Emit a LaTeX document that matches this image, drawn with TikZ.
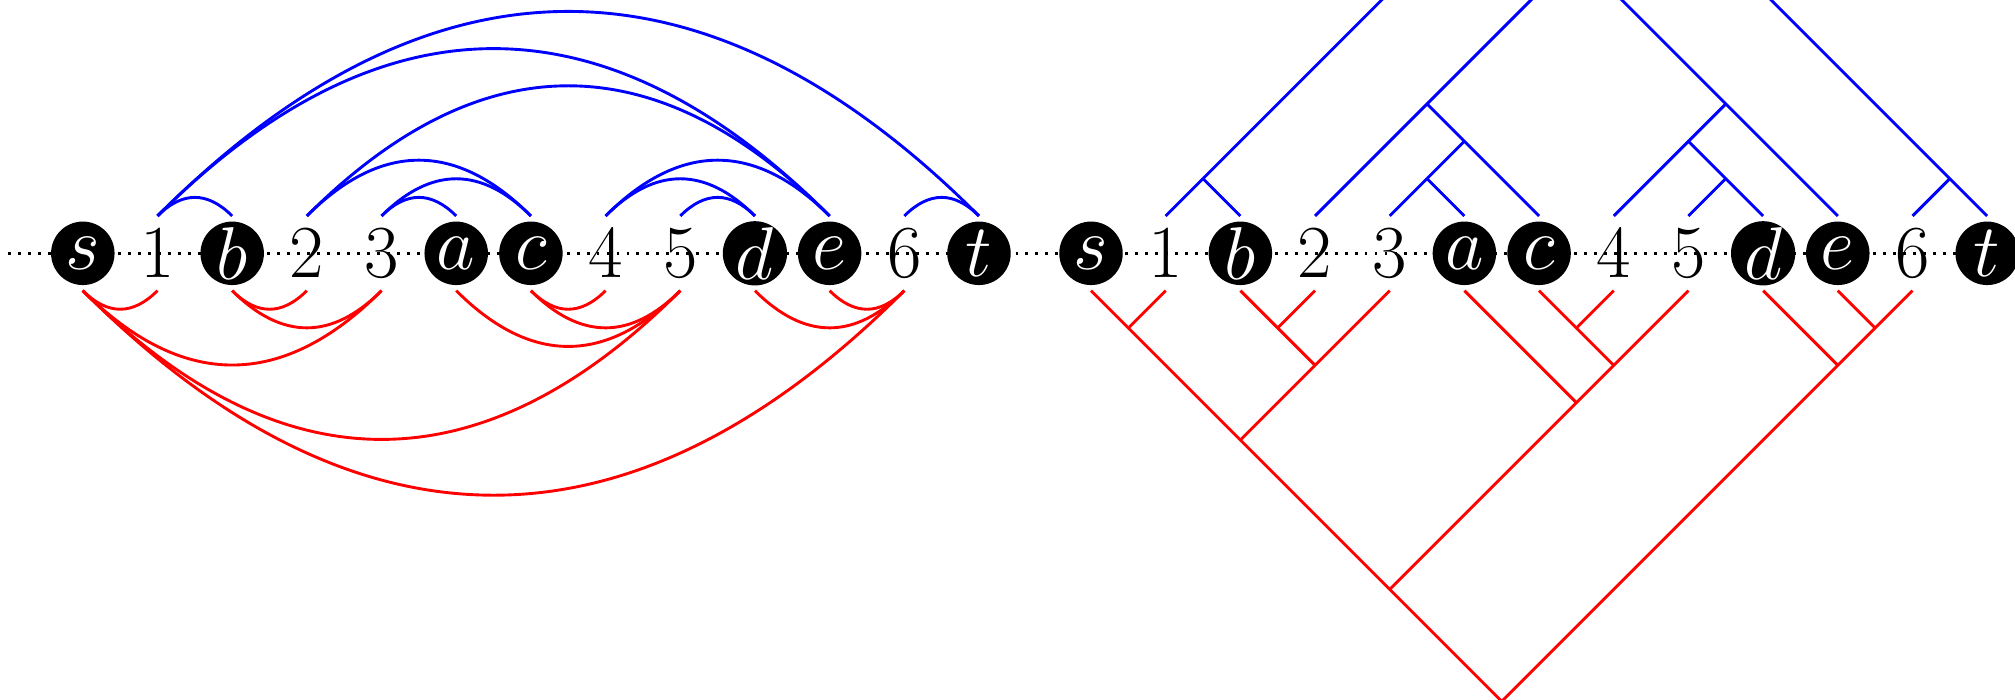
\documentclass[tikz,border=0pt]{standalone}
\usepackage{fix-cm}
\usepackage{xcolor}
\usepackage{tikz}
\definecolor{ArcBlue}{HTML}{0000FF}
\definecolor{ArcRed}{HTML}{FF0000}
\tikzset{
  vertex/.style={circle,fill=black,text=white,inner sep=0pt,minimum size=0.85cm},
  gap/.style={inner sep=0pt},
  upedge/.style={ArcBlue,line width=1.1pt},
  downedge/.style={ArcRed,line width=1.1pt},
  axisdots/.style={line width=1.1pt,dash pattern=on 1.1pt off 2.7pt}
}
\begin{document}
\begin{tikzpicture}[x=1cm,y=1cm,font=\fontsize{28.5}{34}\selectfont]
\clip (-1.109,-5.981) rectangle (25.873,3.392);
\draw[axisdots] (-1,0) -- (26,0);
% vertices and gaps, left row and right row
\foreach \v/\i in {s/0,b/2,a/5,c/6,d/9,e/10,t/12} {
  \node[vertex] (L\v) at (\i,0) {$\v$};
  \node[vertex] (R\v) at (\i+13.5,0) {$\v$};
}
\foreach \v/\i in {1/1,2/3,3/4,4/7,5/8,6/11} {
  \node[gap] (L\v) at (\i,0) {$\v$};
  \node[gap] (R\v) at (\i+13.5,0) {$\v$};
}
% left: arcs (parabolas, 45 degrees at the ends)
\foreach \p/\q in {1/b,1/e,1/t,2/c,2/e,3/a,3/c,4/d,4/e,5/d,6/t}
  \draw[upedge] ([yshift=0.5cm]L\p.center) to[out=45,in=135,looseness=1.204] ([yshift=0.5cm]L\q.center);
\foreach \p/\q in {s/1,s/3,s/5,s/6,b/2,b/3,a/5,c/4,c/5,d/6,e/6}
  \draw[downedge] ([yshift=-0.5cm]L\p.center) to[out=-45,in=-135,looseness=1.204] ([yshift=-0.5cm]L\q.center);
% right: tree junctions
\coordinate (up-1b) at (15,1);
\coordinate (up-3a) at (18,1);
\coordinate (up-3c) at (18.5,1.5);
\coordinate (up-2c) at (18,2);
\coordinate (up-5d) at (22,1);
\coordinate (up-4d) at (21.5,1.5);
\coordinate (up-4e) at (22,2);
\coordinate (up-6t) at (25,1);
\coordinate (up-2e) at (20,4);
\coordinate (up-1e) at (19,5);
\coordinate (up-1t) at (20,6);
\coordinate (dn-s1) at (14,-1);
\coordinate (dn-b2) at (16,-1);
\coordinate (dn-b3) at (16.5,-1.5);
\coordinate (dn-s3) at (15.5,-2.5);
\coordinate (dn-c4) at (20,-1);
\coordinate (dn-c5) at (20.5,-1.5);
\coordinate (dn-a5) at (20,-2);
\coordinate (dn-s5) at (17.5,-4.5);
\coordinate (dn-e6) at (24,-1);
\coordinate (dn-d6) at (23.5,-1.5);
\coordinate (dn-s6) at (19,-6);
% right: trees
\foreach \v/\j in {1/1t,b/1b,2/2e,3/3c,a/3a,c/2c,4/4e,5/5d,d/4d,e/1e,6/6t,t/1t}
  \draw[upedge] ([yshift=0.5cm]R\v.center) -- (up-\j);
\foreach \v/\j in {s/s6,1/s1,b/b3,2/b2,3/s3,a/a5,c/c5,4/c4,5/s5,d/d6,e/e6,6/s6}
  \draw[downedge] ([yshift=-0.5cm]R\v.center) -- (dn-\j);
\end{tikzpicture}
\end{document}
